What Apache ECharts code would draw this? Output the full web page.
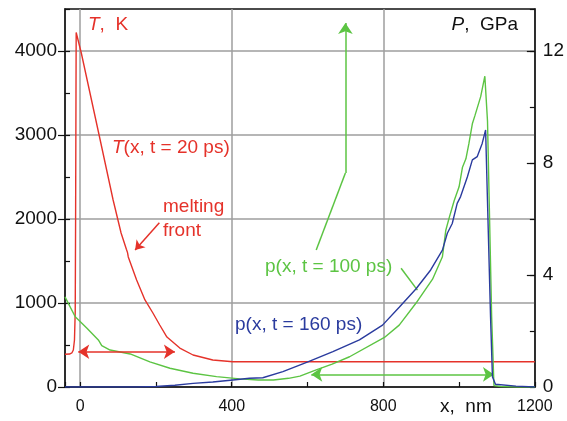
<!DOCTYPE html>
<html><head><meta charset="utf-8">
<script src="https://cdn.jsdelivr.net/npm/echarts@6/dist/echarts.min.js"></script>
<style>html,body{margin:0;padding:0;background:#fff}#c{width:567px;height:421px}</style>
</head><body><div id="c"></div>
<script>
// ---- data ----
const xTicks = [0, 400, 800, 1200];
const tTicks = [0, 1000, 2000, 3000, 4000];
const pTicks = [0, 4, 8, 12];

// T(x, t = 20 ps), K
const xT = [-40,-28,-22,-18,-15,-13,-12,-11,-10.5,3,50,87,108,122,125,127,128.5,130,149,171,192,210,229,263,298,350,403,500,800,1200];
const valT = [390,392,405,440,560,900,2000,3500,4220,3976,3000,2226,1833,1640,1600,1548,1568,1525,1274,1036,881,738,595,464,381,321,300,300,300,300];

// p(x, t = 100 ps), GPa
const xP100 = [-40,-13,18,48,53,57,79,132,184,237,298,360,421,470,510,550,580,623,665,711,803,842,886,930,956,965,974,987,1000,1009,1018,1026,1035,1042,1057,1068,1075,1086,1092,1110,1150,1200];
const valP100 = [3.22,2.51,2.10,1.68,1.62,1.48,1.32,1.18,0.90,0.67,0.49,0.37,0.29,0.25,0.25,0.31,0.39,0.61,0.82,1.08,1.77,2.21,2.99,3.85,4.65,5.60,6.05,6.65,7.15,7.85,8.15,8.70,9.40,9.70,10.37,11.10,9.50,2.50,0.05,0.02,0.0,0.0];

// p(x, t = 160 ps), GPa
const xP160 = [-40,150,200,250,298,350,403,447,482,487,535,601,667,737,798,842,886,925,956,969,982,995,1004,1022,1035,1048,1061,1070,1083,1088,1096,1150,1200];
const valP160 = [0,0,0.02,0.06,0.13,0.18,0.25,0.31,0.33,0.39,0.55,0.90,1.26,1.68,2.21,2.85,3.50,4.18,4.89,5.49,5.84,6.56,6.80,7.51,8.11,8.23,8.70,9.18,2.51,0.37,0.10,0.03,0.0];

// annotation arrows in data coordinates
const redArrow = [[-5, 420], [250, 420]];          // T axis
const meltArrow = [[209, 1956], [145, 1631]];      // T axis
const greenArrowH = [[610, 0.45], [1092, 0.45]];   // P axis
const greenArrowV = [[700, 7.64], [700, 13.0]];    // P axis
const greenLead1 = [[700, 7.64], [623, 4.89]];
const greenLead2 = [[847, 4.24], [890, 3.46]];

const zip = (a, b) => a.map((v, i) => [v, b[i]]);

const RED = '#e5322a', GREEN = '#5cc443', BLUE = '#2a3b9e';
const F = 'Liberation Sans, Arial, sans-serif';

function seg(pts, s0, s1, size) {
  return [
    { coord: pts[0], symbol: s0, symbolSize: size },
    { coord: pts[1], symbol: s1, symbolSize: size }
  ];
}

function txt(x, y, text, color, align, rich) {
  const st = {
    text: text, fill: color, fontSize: 19, fontFamily: F,
    align: align || 'left', verticalAlign: 'middle',
    textAlign: align || 'left', textVerticalAlign: 'middle'
  };
  if (rich) st.rich = { i: { fontStyle: 'italic', fontSize: 19, fontFamily: F, fill: color } };
  return { type: 'text', x: x, y: y, z: 100, style: st };
}

const chart = echarts.init(document.getElementById('c'), null, { renderer: 'canvas' });
chart.setOption({
  animation: false,
  backgroundColor: '#fff',
  grid: { left: 65, right: 30, top: 9, bottom: 34, show: true, borderColor: '#111', borderWidth: 1.5, backgroundColor: 'transparent' },
  xAxis: [
    {
      type: 'value', position: 'bottom', min: -40, max: 1200, minInterval: 400, maxInterval: 400, splitNumber: 3,
      axisLine: { show: true, onZero: false, lineStyle: { color: '#111', width: 1.5 } },
      axisTick: { show: false },
      axisLabel: { show: true, customValues: xTicks, formatter: v => (v < 0 ? '' : String(v)), color: '#111', fontSize: 16, fontFamily: F, margin: 12 },
      splitLine: { show: true, lineStyle: { color: '#9e9e9e', width: 1.5 } }
    },
    {
      type: 'value', position: 'bottom', min: -40, max: 1200, minInterval: 200, maxInterval: 200, splitNumber: 6,
      axisLine: { show: false, onZero: false },
      axisTick: { show: true, inside: true, length: 5, lineStyle: { color: '#111', width: 1.2 } },
      axisLabel: { show: false },
      splitLine: { show: false }
    }
  ],
  yAxis: [
    {
      type: 'value', position: 'left', min: 0, max: 4500, interval: 500,
      axisLine: { show: true, onZero: false, lineStyle: { color: '#111', width: 1.5 } },
      axisTick: { show: true, inside: true, length: 5, lineStyle: { color: '#111', width: 1.2 } },
      axisLabel: { color: '#111', fontSize: 19, fontFamily: F, margin: 8, formatter: v => (tTicks.indexOf(v) >= 0 ? String(v) : '') },
      splitLine: { show: false }
    },
    {
      type: 'value', position: 'right', min: 0, max: 13.5, interval: 2,
      axisLine: { show: true, onZero: false, lineStyle: { color: '#111', width: 1.5 } },
      axisTick: { show: true, inside: true, length: 5, lineStyle: { color: '#111', width: 1.2 } },
      axisLabel: { color: '#111', fontSize: 19, fontFamily: F, margin: 8, formatter: v => (pTicks.indexOf(v) >= 0 ? String(v) : '') },
      splitLine: { show: false }
    },
    {
      type: 'value', position: 'left', min: 0, max: 4500, interval: 1000,
      axisLine: { show: false, onZero: false },
      axisTick: { show: true, inside: false, length: 7, customValues: tTicks, lineStyle: { color: '#111', width: 1.2 } },
      axisLabel: { show: false },
      splitLine: { show: true, lineStyle: { color: '#9e9e9e', width: 1.5 } }
    },
    {
      type: 'value', position: 'right', min: 0, max: 13.5, interval: 4,
      axisLine: { show: false, onZero: false },
      axisTick: { show: true, inside: true, length: 8, customValues: [4, 8, 12], lineStyle: { color: '#111', width: 1.2 } },
      axisLabel: { show: false },
      splitLine: { show: false }
    }
  ],
  series: [
    {
      name: 'T20', type: 'line', xAxisIndex: 0, yAxisIndex: 0, data: zip(xT, valT),
      showSymbol: false, symbol: 'none', lineStyle: { color: RED, width: 1.4 }, z: 3,
      markLine: {
        silent: true, animation: false, label: { show: false },
        lineStyle: { color: RED, width: 1.5, type: 'solid' },
        data: [ seg(redArrow, 'arrow', 'arrow', 11), seg(meltArrow, 'none', 'arrow', 9) ]
      }
    },
    {
      name: 'P100', type: 'line', xAxisIndex: 0, yAxisIndex: 1, data: zip(xP100, valP100),
      showSymbol: false, symbol: 'none', lineStyle: { color: GREEN, width: 1.4 }, z: 4,
      markLine: {
        silent: true, animation: false, label: { show: false },
        lineStyle: { color: GREEN, width: 1.5, type: 'solid' },
        data: [ seg(greenArrowH, 'arrow', 'arrow', 11), seg(greenArrowV, 'none', 'arrow', 11),
                seg(greenLead1, 'none', 'none', 1), seg(greenLead2, 'none', 'none', 1) ]
      }
    },
    {
      name: 'P160', type: 'line', xAxisIndex: 0, yAxisIndex: 1, data: zip(xP160, valP160),
      showSymbol: false, symbol: 'none', lineStyle: { color: BLUE, width: 1.4 }, z: 5
    }
  ],
  graphic: { elements: [
    txt(88, 25, '{i|T},  K', RED, 'left', true),
    txt(518, 25, '{i|P},  GPa', '#111', 'right', true),
    txt(112, 148, '{i|T}(x, t = 20 ps)', RED, 'left', true),
    txt(163, 207, 'melting', RED),
    txt(163, 231, 'front', RED),
    txt(265, 267, 'p(x, t = 100 ps)', GREEN),
    txt(235, 325, 'p(x, t = 160 ps)', BLUE),
    txt(440, 407, 'x,  nm', '#111')
  ] }
});
</script></body></html>
